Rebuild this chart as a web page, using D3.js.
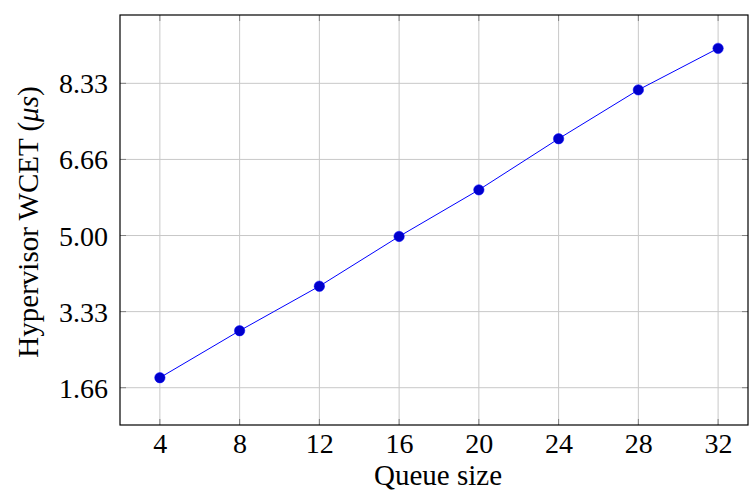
<!DOCTYPE html>
<html><head><meta charset="utf-8">
<script src="https://cdn.jsdelivr.net/npm/d3@7"></script>
<style>body{margin:0;background:#fff}svg{display:block}text{font-family:"Liberation Serif","DejaVu Serif",serif;fill:#000}</style>
</head><body>
<script>
const queueSizes = [4, 8, 12, 16, 20, 24, 28, 32];
const wcet = [1.886, 2.915, 3.89, 4.98, 6.00, 7.12, 8.19, 9.10];
const yTicks = [5/3, 10/3, 5, 20/3, 25/3];
const yTickLabels = ["1.66", "3.33", "5.00", "6.66", "8.33"];
const xTicks = [4, 8, 12, 16, 20, 24, 28, 32];

const W = 749, H = 495;
const m = {left: 120, right: 1, top: 15, bottom: 70};
const FS = 28;
const svg = d3.select("body").append("svg").attr("width", W).attr("height", H);
const x = d3.scaleLinear().domain([2, 33.5]).range([m.left, W - m.right]);
const y = d3.scaleLinear().domain([0.85, 9.83]).range([H - m.bottom, m.top]);
const x0 = x.range()[0], x1 = x.range()[1], y0 = y.range()[0], y1 = y.range()[1];

// grid
const g = svg.append("g");
g.selectAll(".vg").data(xTicks).join("line")
  .attr("x1", d => x(d)).attr("x2", d => x(d)).attr("y1", y0).attr("y2", y1)
  .attr("stroke", "#c8c8c8").attr("stroke-width", 1);
g.selectAll(".hg").data(yTicks).join("line")
  .attr("y1", d => y(d)).attr("y2", d => y(d)).attr("x1", x0).attr("x2", x1)
  .attr("stroke", "#c8c8c8").attr("stroke-width", 1);

// inner ticks
const tl = 6;
xTicks.forEach(t => {
  [[y0, y0 - tl], [y1, y1 + tl]].forEach(([a, b]) =>
    svg.append("line").attr("x1", x(t)).attr("x2", x(t)).attr("y1", a).attr("y2", b)
      .attr("stroke", "#808080").attr("stroke-width", 1));
});
yTicks.forEach(t => {
  [[x0, x0 + tl], [x1, x1 - tl]].forEach(([a, b]) =>
    svg.append("line").attr("y1", y(t)).attr("y2", y(t)).attr("x1", a).attr("x2", b)
      .attr("stroke", "#808080").attr("stroke-width", 1));
});

// frame
svg.append("rect").attr("x", x0).attr("y", y1).attr("width", x1 - x0).attr("height", y0 - y1)
  .attr("fill", "none").attr("stroke", "#000").attr("stroke-width", 1.2);

// axes labels via d3 axes (without domain/tick lines)
const xAxis = svg.append("g").attr("transform", `translate(0,${y0})`)
  .call(d3.axisBottom(x).tickValues(xTicks).tickSize(0));
xAxis.select(".domain").remove();
xAxis.selectAll("text").attr("y", 28).attr("dy", 0)
  .attr("font-size", FS).attr("font-family", "Liberation Serif").attr("fill", "#000");

const yAxis = svg.append("g").attr("transform", `translate(${x0},0)`)
  .call(d3.axisLeft(y).tickValues(yTicks).tickSize(0).tickFormat((d, i) => yTickLabels[i]));
yAxis.select(".domain").remove();
yAxis.selectAll("text").attr("x", -12).attr("dy", "0.34em")
  .attr("font-size", FS).attr("font-family", "Liberation Serif").attr("fill", "#000");

// titles
svg.append("text").attr("x", (x0 + x1) / 2 + 4).attr("y", 485).attr("text-anchor", "middle")
  .attr("font-size", 29).text("Queue size");
const yt = svg.append("text").attr("transform", `translate(38,222) rotate(-90)`)
  .attr("text-anchor", "middle").attr("font-size", 29);
yt.append("tspan").text("Hypervisor WCET (");
yt.append("tspan").attr("font-style", "italic").text("μs");
yt.append("tspan").text(")");

// line and markers
const data = queueSizes.map((q, i) => ({q, v: wcet[i]}));
svg.append("path").datum(data)
  .attr("d", d3.line().x(d => x(d.q)).y(d => y(d.v)))
  .attr("fill", "none").attr("stroke", "#0000ff").attr("stroke-width", 1);
svg.selectAll(".pt").data(data).join("circle")
  .attr("cx", d => x(d.q)).attr("cy", d => y(d.v)).attr("r", 5.2)
  .attr("fill", "#0000cc").attr("stroke", "#0000ff").attr("stroke-width", 0.5);
</script>
</body></html>
